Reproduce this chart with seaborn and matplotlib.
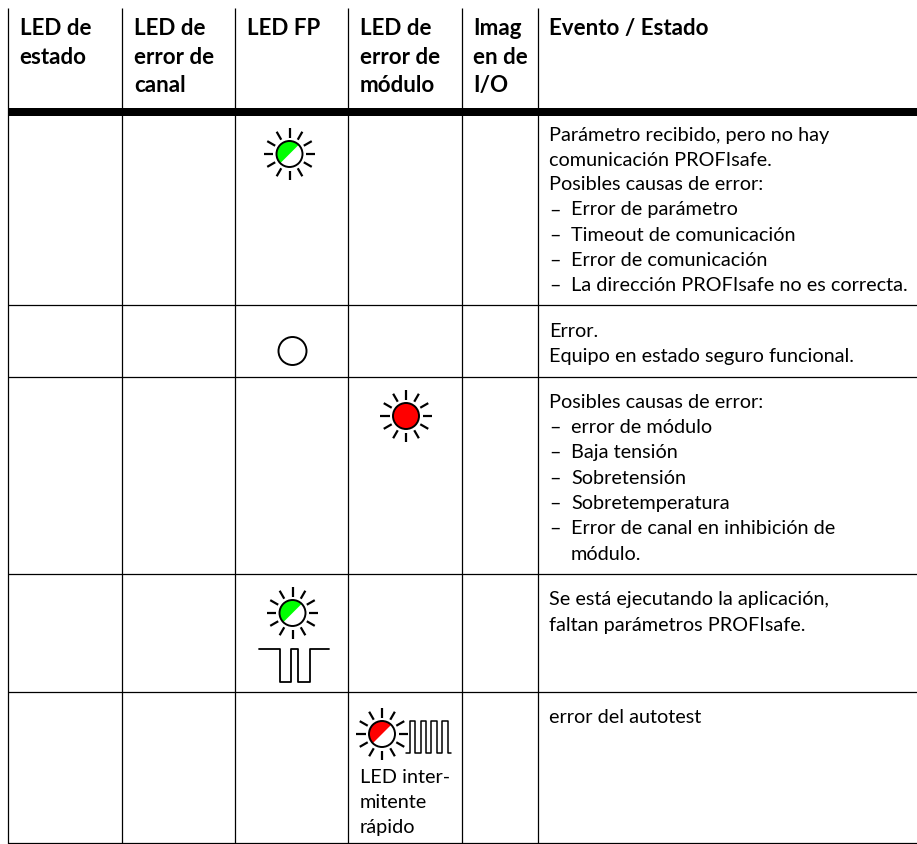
import numpy as np
import seaborn as sns
import matplotlib.pyplot as plt
from matplotlib.patches import Circle, Wedge

sns.set_theme(style='white')
plt.rcParams['font.family'] = ['Lato', 'DejaVu Sans']

# текст таблицы
headers = [['LED de', 'estado'],
           ['LED de', 'error de', 'canal'],
           ['LED FP'],
           ['LED de', 'error de', 'módulo'],
           ['Imag', 'en de', 'I/O'],
           ['Evento / Estado']]

row1_text = ['Parámetro recibido, pero no hay', 'comunicación PROFIsafe.', 'Posibles causas de error:',
             '–\tError de parámetro', '–\tTimeout de comunicación', '–\tError de comunicación',
             '–\tLa dirección PROFIsafe no es correcta.']
row2_text = ['Error.', 'Equipo en estado seguro funcional.']
row3_text = ['Posibles causas de error:', '–\terror de módulo', '–\tBaja tensión', '–\tSobretensión',
             '–\tSobretemperatura', '–\tError de canal en inhibición de', '\tmódulo.']
row4_text = ['Se está ejecutando la aplicación,', 'faltan parámetros PROFIsafe.']
row5_text = ['error del autotest']
led_note = ['LED inter-', 'mitente', 'rápido']

# геометрия в пикселях картинки
col_edges = [8, 122, 235, 348, 462, 538]
header_x = [19.5, 134.5, 247, 360, 473, 549]
header_base = [35, 64, 92]
row_edges = [305, 377, 573.5, 691.5, 843]
row_bases = [[141, 166, 190.5, 215.5, 241, 266, 291],
             [337, 362],
             [408, 433, 458, 484, 509, 534, 560],
             [605, 631],
             [723]]
note_base = [783, 808, 833]

# сигналы мигания
slow_x = [259, 279.5, 279.5, 290.5, 290.5, 297.5, 297.5, 309.5, 309.5, 329]
slow_y = [649, 649, 681.5, 681.5, 649, 649, 681.5, 681.5, 649, 649]
fast_x = [406, 410, 410, 415, 415, 421, 421, 426, 426, 431, 431, 437, 437, 442, 442, 448, 448, 451]
fast_y = [753, 753, 721, 721, 753, 753, 721, 721, 753, 753, 721, 721, 753, 753, 721, 721, 753, 753]

GREEN = '#00ff00'
RED = '#ff0000'
FS = 14.3

fig, ax = plt.subplots(figsize=(9.17, 8.44), dpi=100)
ax.set_position([0, 0, 1, 1])
ax.set_xlim(0, 917)
ax.set_ylim(844, 0)
ax.axis('off')


def led(cx, cy, color, half=False, rays=True, r=13):
    if half:
        ax.add_patch(Wedge((cx, cy), r, 135, 315, fc=color, ec='none', zorder=2))
        ax.add_patch(Circle((cx, cy), r, fc='none', ec='black', lw=1.4, zorder=3))
    else:
        ax.add_patch(Circle((cx, cy), r, fc=color, ec='black', lw=1.4, zorder=3))
    if rays:
        for a in np.deg2rad(np.arange(0, 360, 30)):
            ax.plot([cx + 16.5 * np.cos(a), cx + 25.7 * np.cos(a)],
                    [cy + 16.5 * np.sin(a), cy + 25.7 * np.sin(a)],
                    color='black', lw=1.6, solid_capstyle='butt')


def body(x, bases, lines):
    for b, t in zip(bases, lines):
        if '\t' in t:
            dash, rest = t.split('\t')
            if dash:
                ax.text(x, b, dash, fontsize=FS, color='black', va='baseline')
            ax.text(x + 22, b, rest, fontsize=FS, color='black', va='baseline')
        else:
            ax.text(x, b, t, fontsize=FS, color='black', va='baseline')


# линии таблицы
ax.vlines(col_edges, 8, 843.5, color='black', lw=0.9)
ax.hlines(row_edges, col_edges[0], 917, color='black', lw=0.9)
ax.fill_between([col_edges[0], 917], 108, 116, color='black', lw=0)

# шапка
for x, lines in zip(header_x, headers):
    for b, t in zip(header_base, lines):
        ax.text(x, b, t, fontsize=16.1, fontweight='bold', color='black', va='baseline')

body(549, row_bases[0], row1_text)
body(549, row_bases[1], row2_text)
body(549, row_bases[2], row3_text)
body(549, row_bases[3], row4_text)
body(549, row_bases[4], row5_text)
body(360, note_base, led_note)

# светодиоды
led(289.5, 154, GREEN, half=True)
led(292.5, 351, 'white', rays=False, r=14)
led(406, 416, RED)
led(292.5, 613, GREEN, half=True)
led(382, 734, RED, half=True)

sns.lineplot(x=slow_x, y=slow_y, ax=ax, color='black', lw=1.3, sort=False, estimator=None)
sns.lineplot(x=fast_x, y=fast_y, ax=ax, color='black', lw=1.1, sort=False, estimator=None)

fig.savefig('out.png', dpi=100)
